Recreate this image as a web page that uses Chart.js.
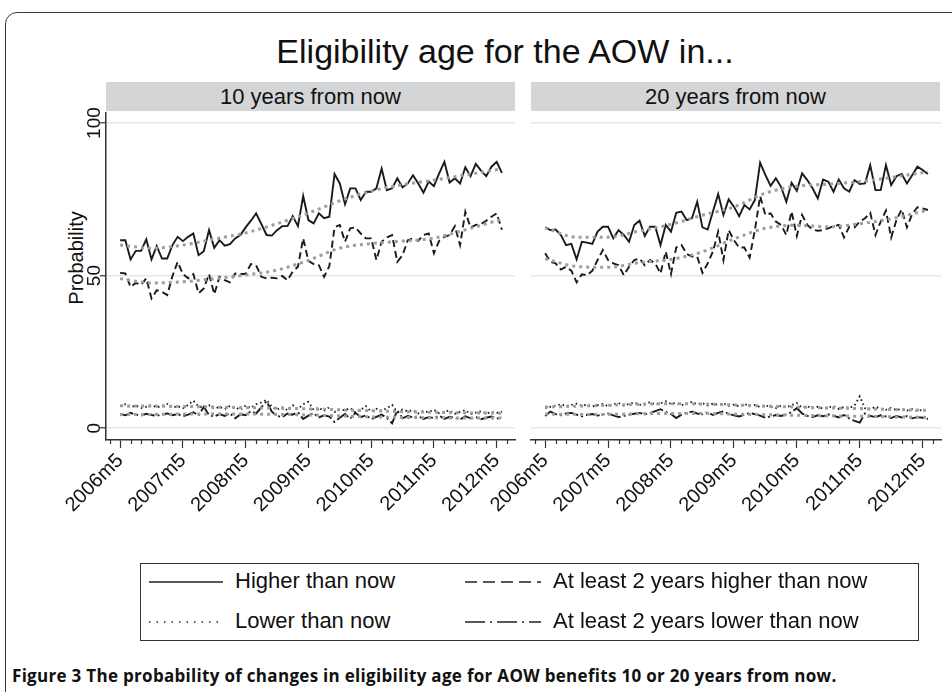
<!DOCTYPE html>
<html><head><meta charset="utf-8">
<script src="https://cdn.jsdelivr.net/npm/chart.js@4.4.1/dist/chart.umd.min.js"></script>
<style>
html,body{margin:0;padding:0;width:952px;height:692px;overflow:hidden;background:#fff;font-family:"Liberation Sans",Arial,sans-serif;color:#111;}
#frame{position:absolute;left:5px;top:12px;width:1000px;height:800px;border:1.5px solid #3a3a3a;border-radius:12px;}
#title{position:absolute;left:0;width:1010px;top:31px;text-align:center;font-size:34px;line-height:40px;}
.hdr{position:absolute;top:82px;height:29px;background:#d4d5d7;text-align:center;font-size:22px;line-height:29px;}
#ytitle{position:absolute;left:76px;top:258px;transform:translate(-50%,-50%) rotate(-90deg);font-size:20px;white-space:nowrap;}
canvas{position:absolute;}
#legend{position:absolute;left:140px;top:563px;width:777px;height:76px;border:1.5px solid #333;}
.li{position:absolute;font-size:22px;line-height:26px;white-space:nowrap;}
.li svg{position:absolute;top:12px;}
#caption{position:absolute;left:12px;top:665px;font-family:"Open Sans",sans-serif;font-weight:bold;font-size:17px;line-height:22px;white-space:nowrap;letter-spacing:0.3px;}
</style></head>
<body>
<div id="frame"></div>
<div id="title">Eligibility age for the AOW in...</div>
<div class="hdr" style="left:106px;width:409px;">10 years from now</div>
<div class="hdr" style="left:531px;width:409px;">20 years from now</div>
<div id="ytitle">Probability</div>
<canvas id="cL" width="540" height="460" style="left:0;top:100px;"></canvas>
<canvas id="cR" width="491" height="460" style="left:461px;top:100px;"></canvas>
<div id="legend">
  <div class="li" style="left:8px;top:4px;"><svg width="74" height="4" style="left:0"><line x1="0" y1="2" x2="74" y2="2" stroke="#222" stroke-width="1.6"/></svg><span style="margin-left:86px">Higher than now</span></div>
  <div class="li" style="left:324px;top:4px;"><svg width="76" height="4" style="left:0"><line x1="0" y1="2" x2="76" y2="2" stroke="#222" stroke-width="1.6" stroke-dasharray="12 6"/></svg><span style="margin-left:88px">At least 2 years higher than now</span></div>
  <div class="li" style="left:8px;top:44px;"><svg width="74" height="4" style="left:0"><line x1="0" y1="2" x2="74" y2="2" stroke="#222" stroke-width="1.6" stroke-dasharray="1.5 6"/></svg><span style="margin-left:86px">Lower than now</span></div>
  <div class="li" style="left:324px;top:44px;"><svg width="76" height="4" style="left:0"><line x1="0" y1="2" x2="76" y2="2" stroke="#222" stroke-width="1.6" stroke-dasharray="20 5 2 5"/></svg><span style="margin-left:88px">At least 2 years lower than now</span></div>
</div>
<div id="caption">Figure 3 The probability of changes in eligibility age for AOW benefits 10 or 20 years from now.</div>
<script>
// ---- data ----
const periods = ["2006m5","2006m6","2006m7","2006m8","2006m9","2006m10","2006m11","2006m12",
"2007m1","2007m2","2007m3","2007m4","2007m5","2007m6","2007m7","2007m8","2007m9","2007m10","2007m11","2007m12",
"2008m1","2008m2","2008m3","2008m4","2008m5","2008m6","2008m7","2008m8","2008m9","2008m10","2008m11","2008m12",
"2009m1","2009m2","2009m3","2009m4","2009m5","2009m6","2009m7","2009m8","2009m9","2009m10","2009m11","2009m12",
"2010m1","2010m2","2010m3","2010m4","2010m5","2010m6","2010m7","2010m8","2010m9","2010m10","2010m11","2010m12",
"2011m1","2011m2","2011m3","2011m4","2011m5","2011m6","2011m7","2011m8","2011m9","2011m10","2011m11","2011m12",
"2012m1","2012m2","2012m3","2012m4","2012m5","2012m6"];
const xTickLabels = ["2006m5","2007m5","2008m5","2009m5","2010m5","2011m5","2012m5"];
const yTickValues = [0,50,100];
const yTickLabels = ["0","50","100"];

// 10 years from now
const higher10 = [61.6,61.6,55.3,58.1,58.1,61.9,55.3,59.7,55.6,55.6,60.0,62.7,61.3,62.7,63.8,56.7,58.0,64.9,59.1,61.6,59.8,60.3,62.2,63.3,65.8,68.0,70.4,66.9,63.3,63.1,64.9,66.2,66.2,69.5,66.2,76.1,68.2,67.1,70.4,68.8,69.3,83.3,80.2,73.4,78.6,78.6,74.8,77.5,77.5,78.6,85.1,78.0,78.6,81.9,78.9,80.2,82.9,80.2,77.2,80.8,79.3,83.5,87.3,80.5,81.9,80.2,85.5,82.6,86.6,84.4,82.6,85.7,87.3,83.7];
const higher2y10 = [50.9,50.7,46.3,47.6,46.9,49.1,42.5,45.2,44.7,43.6,49.8,54.5,50.5,49.1,50.5,44.2,45.8,50.5,43.9,49.6,48.5,47.8,50.7,50.5,50.5,53.8,53.4,49.6,49.1,49.3,49.1,49.9,48.5,51.3,52.9,62.2,54.8,53.8,53.4,49.6,53.1,65.8,66.6,61.1,65.5,65.8,63.8,62.2,62.2,55.1,61.1,62.5,63.3,54.5,56.7,61.6,62.2,61.4,63.3,63.8,57.3,61.4,62.7,63.3,66.2,60.0,70.9,65.8,66.6,66.9,68.0,69.3,70.4,65.0];
const lower10 = [7.2,7.8,6.9,7.4,6.6,7.0,7.5,6.8,7.3,7.9,6.7,7.2,6.5,7.6,9.0,7.1,6.8,7.5,6.4,7.0,6.2,7.3,6.8,6.0,7.4,6.6,7.8,8.4,9.3,7.0,6.1,6.8,5.9,7.5,6.3,7.8,8.6,6.0,6.7,5.6,6.9,5.3,6.2,5.8,6.6,5.1,6.0,7.2,5.4,6.3,5.7,6.5,7.6,5.2,6.1,5.5,5.9,4.8,5.6,5.2,6.0,4.9,5.4,5.8,4.7,5.3,5.9,4.6,5.1,5.5,4.8,5.3,5.0,5.4];
const lower2y10 = [4.6,4.2,5.0,4.4,4.1,4.7,4.3,4.0,4.5,4.8,4.2,4.6,3.9,4.4,5.2,4.1,7.0,4.3,3.8,4.6,4.0,4.9,3.2,4.5,4.2,5.6,4.8,6.8,8.8,5.4,4.0,3.6,4.8,4.4,5.2,3.0,4.1,4.9,3.5,4.2,3.8,2.0,3.4,4.6,3.1,5.0,3.6,4.2,2.9,3.7,4.4,3.3,1.6,5.8,3.2,4.0,3.5,3.9,3.0,3.6,3.3,4.1,3.0,3.7,3.4,2.8,3.9,3.2,3.6,2.9,3.4,3.8,3.1,3.5];

// 20 years from now
const higher20 = [65.8,64.9,65.1,63.3,60.0,60.4,55.3,61.1,60.8,60.4,64.4,66.0,66.0,62.2,64.9,63.3,61.1,66.6,68.0,63.0,66.0,66.0,60.0,66.6,64.4,70.6,71.0,68.2,68.8,74.2,65.8,65.1,71.0,76.7,69.9,75.0,72.6,69.5,73.1,71.7,74.8,87.0,83.0,79.4,81.9,79.1,74.2,80.4,77.8,83.5,81.3,78.6,75.3,81.5,80.8,77.5,81.5,78.6,77.5,81.3,80.0,80.2,86.2,78.0,78.0,86.2,79.7,82.6,83.3,80.2,82.9,85.7,84.6,83.3];
const higher2y20 = [57.3,54.5,54.0,52.0,52.9,51.6,47.8,50.4,50.1,51.6,55.1,58.4,55.1,54.0,53.4,50.1,52.9,55.1,55.6,53.4,55.1,54.0,50.7,57.9,50.5,59.2,60.0,57.1,56.2,56.2,50.9,54.0,57.9,64.4,55.1,64.9,61.6,59.2,59.2,55.9,64.9,76.0,69.9,70.4,67.7,66.6,63.3,71.0,63.0,69.9,66.6,65.1,64.7,64.9,65.5,66.2,66.6,62.5,66.0,65.8,67.7,68.8,70.6,63.3,67.7,71.3,62.5,68.2,71.7,65.8,70.2,72.4,72.0,71.5];
const lower20 = [6.6,7.0,7.4,7.8,7.2,7.6,8.0,7.3,7.7,7.1,7.5,7.9,7.2,7.8,8.2,7.4,7.9,8.4,7.6,8.0,8.5,7.7,8.1,8.8,7.9,8.3,7.5,8.0,8.6,7.8,8.2,7.4,8.0,7.6,8.1,7.3,7.7,7.1,7.9,7.2,7.6,6.9,7.4,7.0,6.6,7.3,6.8,7.5,8.2,6.7,7.1,6.5,7.0,6.4,6.8,7.2,6.3,6.9,6.6,7.4,10.4,6.5,6.1,7.0,6.4,6.0,6.6,5.9,6.3,5.8,6.2,5.6,6.0,5.7];
const lower2y20 = [4.0,5.4,4.6,4.2,4.8,5.0,4.4,3.9,4.3,4.6,4.1,4.5,4.8,4.2,3.6,4.0,4.4,4.7,5.0,4.5,4.9,5.6,6.2,5.3,4.6,3.3,4.4,5.1,5.4,4.8,4.5,5.2,4.3,5.0,5.5,4.7,4.2,3.8,4.4,4.9,4.6,4.1,3.4,3.8,4.3,4.0,4.5,5.2,6.6,4.8,4.0,3.6,4.2,3.9,4.5,4.1,3.5,4.3,3.2,2.4,1.8,4.8,4.0,3.6,4.2,3.8,3.3,4.0,3.5,3.9,3.2,3.6,3.4,3.0];

// smoothed trends, read at these periods
const trendPeriods = ["2006m5","2006m11","2007m5","2007m11","2008m5","2008m11","2009m5","2009m11","2010m5","2010m11","2011m5","2011m11","2012m6"];
const trendHigher10   = [60.0,59.0,60.0,62.0,64.0,67.0,70.5,74.5,77.7,79.8,81.3,83.0,85.0];
const trendHigher2y10 = [49.0,47.6,48.0,49.0,50.2,51.8,55.0,59.0,60.5,61.3,62.3,65.0,68.5];
const trendLower10    = [7.3,7.2,7.1,6.9,6.7,6.5,6.3,6.0,5.7,5.4,5.2,5.0,4.9];
const trendLower2y10  = [4.5,4.5,4.6,4.6,4.6,4.5,4.3,4.0,3.7,3.5,3.4,3.3,3.3];
const trendHigher20   = [65.7,62.6,62.6,64.6,66.8,69.8,72.5,77.0,79.3,80.0,80.8,82.2,84.0];
const trendHigher2y20 = [55.5,53.0,52.7,54.3,55.3,57.8,62.0,65.5,66.5,66.0,67.0,68.6,71.5];
const trendLower20    = [6.9,7.2,7.5,7.8,8.0,7.9,7.6,7.2,6.9,6.6,6.4,6.1,5.8];
const trendLower2y20  = [4.6,4.5,4.5,4.7,4.8,4.8,4.6,4.4,4.2,4.0,3.9,3.7,3.5];

// ---- chart ----
const FONT = '"Liberation Sans", Arial, sans-serif';
const majorTicks = xTickLabels.map(l => periods.indexOf(l));
const X_MIN = -2.7, X_MAX = 75.5, Y_MIN = -3.9, Y_MAX = 103.3;
const MINOR_STEP = 2;
const minorTicks = [];
for (let v = -2; v <= X_MAX; v += MINOR_STEP) if (!majorTicks.includes(v)) minorTicks.push(v);

const toXY = arr => arr.map((v, i) => ({x: i, y: v}));
const trendXY = arr => arr.map((v, i) => ({x: periods.indexOf(trendPeriods[i]), y: v}));

function rawDs(arr, dash){
  return {data: toXY(arr), borderColor:'#1a1a1a', borderWidth:1.9, borderDash:dash, pointRadius:0, tension:0, fill:false};
}
function trendDs(arr){
  return {data: trendXY(arr), borderColor:'#9e9e9e', borderWidth:3, borderDash:[3,4], pointRadius:0, tension:0.4, cubicInterpolationMode:'monotone', fill:false};
}

const minorTickPlugin = {
  id:'minorTicks',
  afterDraw(chart){
    const s = chart.scales.x, ctx = chart.ctx;
    ctx.save(); ctx.strokeStyle = '#333'; ctx.lineWidth = 1.2; ctx.beginPath();
    minorTicks.forEach(v => {
      if (v < s.min || v > s.max) return;
      const x = Math.round(s.getPixelForValue(v)) + 0.5;
      ctx.moveTo(x, s.top); ctx.lineTo(x, s.top + 4);
    });
    ctx.stroke(); ctx.restore();
  }
};
const yLabelPlugin = {
  id:'yLabels',
  afterDraw(chart, args, opts){
    if (!opts.show) return;
    const s = chart.scales.y, ctx = chart.ctx;
    ctx.save();
    ctx.font = '19px ' + FONT; ctx.fillStyle = '#111';
    ctx.textAlign = 'center'; ctx.textBaseline = 'middle';
    s.ticks.forEach(t => {
      const y = s.getPixelForValue(t.value);
      ctx.save(); ctx.translate(s.right - 11, y); ctx.rotate(-Math.PI/2);
      ctx.fillText(yTickLabels[yTickValues.indexOf(t.value)], 0, 0);
      ctx.restore();
    });
    ctx.restore();
  }
};

function makeChart(id, isLeft, hi, hi2, lo, lo2, tHi, tHi2, tLo, tLo2){
  return new Chart(document.getElementById(id), {
    type:'line',
    data:{ datasets:[
      trendDs(tHi), trendDs(tHi2), trendDs(tLo), trendDs(tLo2),
      rawDs(hi, []), rawDs(hi2, [7,4]), rawDs(lo, [1.5,3]), rawDs(lo2, [14,3,2,3])
    ]},
    options:{
      responsive:false, animation:false, devicePixelRatio:1,
      layout:{ padding:{ top:13, right: isLeft ? 25 : 11, bottom:0, left:0 } },
      plugins:{ legend:{display:false}, tooltip:{enabled:false}, title:{display:false}, yLabels:{show:isLeft} },
      scales:{
        x:{ type:'linear', min:X_MIN, max:X_MAX,
          afterBuildTicks: s => { s.ticks = majorTicks.map(v => ({value:v})); },
          afterFit: s => { s.height = 120; },
          ticks:{ autoSkip:false, minRotation:45, maxRotation:45, padding:1, color:'#111',
                  font:{size:20, family:FONT},
                  callback:(v) => xTickLabels[majorTicks.indexOf(v)] },
          grid:{ drawOnChartArea:false, drawTicks:true, tickLength:8, tickColor:'#333', tickWidth:1.2 },
          border:{ display:true, color:'#333', width:1.5 }
        },
        y:{ type:'linear', min:Y_MIN, max:Y_MAX,
          afterBuildTicks: s => { s.ticks = yTickValues.map(v => ({value:v})); },
          afterFit: s => { s.width = isLeft ? 106 : 70; },
          ticks:{ display:false },
          grid:{ color:'#e6e6e6', lineWidth:1.5, drawTicks:isLeft, tickLength:6, tickColor:'#333', tickWidth:1.2 },
          border:{ display:isLeft, color:'#333', width:1.5 }
        }
      }
    },
    plugins:[minorTickPlugin, yLabelPlugin]
  });
}

makeChart('cL', true, higher10, higher2y10, lower10, lower2y10, trendHigher10, trendHigher2y10, trendLower10, trendLower2y10);
makeChart('cR', false, higher20, higher2y20, lower20, lower2y20, trendHigher20, trendHigher2y20, trendLower20, trendLower2y20);
</script>
</body></html>
